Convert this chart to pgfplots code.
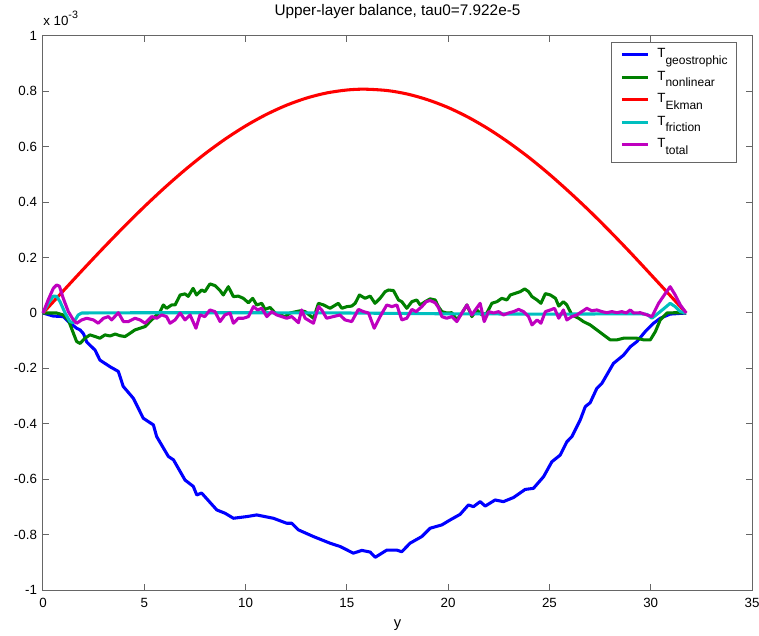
\documentclass[border=0pt]{standalone}
\usepackage{pgfplots}
\pgfplotsset{compat=1.18}
\usepackage{fontspec}
\setmainfont{Liberation Sans}
\definecolor{mblue}{rgb}{0,0,1}
\definecolor{mgreen}{rgb}{0,0.5,0}
\definecolor{mred}{rgb}{1,0,0}
\definecolor{mcyan}{rgb}{0,0.75,0.75}
\definecolor{mmag}{rgb}{0.75,0,0.75}
\newcommand{\sub}[1]{\raisebox{-5pt}{\fontsize{9}{9}\selectfont #1}}
\begin{document}
\begin{tikzpicture}
\begin{axis}[name=ax,
  width=531.75pt, height=415.5pt, scale only axis,
  xmin=0, xmax=35, ymin=-1, ymax=1,
  xtick={0,5,10,15,20,25,30,35},
  xticklabels={0,5,10,15,20,25,30,35},
  ytick={-1,-0.8,-0.6,-0.4,-0.2,0,0.2,0.4,0.6,0.8,1},
  yticklabels={-1,-0.8,-0.6,-0.4,-0.2,0,0.2,0.4,0.6,0.8,1},
  tick align=inside, tick pos=both, major tick length=4.5pt,
  axis line style={black!60, line width=0.75pt},
  every tick/.style={black!60, line width=0.75pt},
  tick label style={font=\fontsize{10}{12}\selectfont, black},
  xticklabel style={anchor=base, yshift=-12.75pt},
  yticklabel style={anchor=east, xshift=-1pt},
  title={Upper-layer balance, tau0=7.922e-5},
  title style={at={(0.5,1)}, anchor=base, yshift=9pt, font=\fontsize{11.5}{13}\selectfont},
  xlabel={y},
  xlabel style={at={(0.5,0)}, anchor=base, yshift=-27.75pt, font=\fontsize{11}{13}\selectfont},
  legend cell align=left,
  legend style={at={(1,1)}, anchor=north east, xshift=-11.25pt, yshift=-4.5pt,
    draw=black!60, line width=0.6pt, fill=white,
    inner xsep=6.75pt, inner ysep=3.5pt, row sep=1.4pt, column sep=6pt,
    nodes={inner sep=0pt, text height=8pt, text depth=7.5pt, font=\fontsize{10}{12}\selectfont}},
  legend image code/.code={\draw[#1, line width=2.3pt] (0pt,2pt) -- (19.5pt,2pt);},
  every axis plot/.append style={line width=2.3pt, line join=round},
  clip=false,
]
\addplot[mblue] coordinates {
(0,0) (0.5,-0.011) (1.0,-0.013) (1.25,-0.031) (1.66,-0.055) (1.83,-0.061) (2.0,-0.075) (2.16,-0.105) (2.57,-0.134) (2.81,-0.17) (3.31,-0.194) (3.72,-0.211) (3.96,-0.265) (4.46,-0.308) (4.95,-0.38) (5.45,-0.404) (5.61,-0.446) (6.19,-0.518) (6.44,-0.53) (7.01,-0.603) (7.42,-0.626) (7.59,-0.657) (7.83,-0.65) (8.58,-0.711) (8.99,-0.723) (9.4,-0.741) (10.06,-0.735) (10.55,-0.729) (11.37,-0.741) (12.03,-0.759) (12.28,-0.759) (12.61,-0.783) (13.35,-0.807) (14.17,-0.831) (14.67,-0.843) (15.32,-0.867) (15.74,-0.857) (16.15,-0.863) (16.4,-0.882) (16.97,-0.856) (17.47,-0.856) (17.71,-0.862) (18.12,-0.831) (18.7,-0.807) (19.11,-0.777) (19.69,-0.765) (20.1,-0.747) (20.59,-0.727) (21.0,-0.693) (21.25,-0.699) (21.58,-0.681) (21.83,-0.697) (22.32,-0.675) (22.73,-0.681) (23.23,-0.666) (23.8,-0.637) (24.21,-0.633) (24.71,-0.591) (25.12,-0.537) (25.53,-0.513) (25.86,-0.465) (26.11,-0.446) (26.52,-0.386) (26.77,-0.338) (27.01,-0.324) (27.34,-0.272) (27.59,-0.254) (28.16,-0.182) (28.66,-0.152) (28.99,-0.122) (29.32,-0.103) (29.73,-0.067) (30.14,-0.037) (30.47,-0.019) (30.96,-0.004) (31.75,0)
};
\addlegendentry{T\sub{geostrophic}}
\addplot[mgreen] coordinates {
(0,0) (0.67,0) (1.0,-0.007) (1.25,-0.025) (1.5,-0.073) (1.66,-0.103) (1.83,-0.11) (2.07,-0.091) (2.32,-0.079) (2.57,-0.085) (2.81,-0.091) (3.06,-0.079) (3.31,-0.083) (3.56,-0.076) (3.8,-0.082) (4.05,-0.085) (4.3,-0.073) (4.54,-0.061) (4.79,-0.055) (5.04,-0.049) (5.28,-0.031) (5.53,-0.013) (5.78,0.005) (5.94,0.029) (6.1,0.017) (6.35,0.029) (6.52,0.029) (6.77,0.065) (7.01,0.069) (7.17,0.06) (7.41,0.089) (7.58,0.065) (7.83,0.083) (7.99,0.077) (8.24,0.105) (8.49,0.099) (8.74,0.081) (8.9,0.065) (9.15,0.095) (9.4,0.059) (9.64,0.061) (9.89,0.053) (10.14,0.037) (10.35,0.053) (10.55,0.029) (10.8,0.035) (10.96,0.013) (11.21,0.02) (11.46,0) (11.7,-0.007) (11.95,-0.013) (12.2,0) (12.69,0.008) (12.94,0.005) (13.35,-0.019) (13.6,0.035) (13.85,0.029) (14.17,0.017) (14.58,0.035) (14.75,0.017) (15.0,0.023) (15.24,0.025) (15.41,0.035) (15.62,0.065) (15.9,0.053) (16.15,0.061) (16.39,0.035) (16.64,0.053) (16.89,0.077) (17.06,0.083) (17.3,0.081) (17.55,0.047) (17.71,0.041) (17.96,0.017) (18.21,0.041) (18.45,0.047) (18.62,0.029) (18.87,0.041) (19.11,0.051) (19.36,0.047) (19.52,0.023) (19.69,0.005) (19.93,0) (20.18,0.001) (20.43,-0.025) (20.68,0) (20.93,0.029) (21.17,-0.013) (21.42,0.011) (21.67,-0.007) (21.91,0) (22.16,0.035) (22.41,0.041) (22.65,0.053) (22.9,0.047) (23.07,0.065) (23.31,0.071) (23.56,0.077) (23.78,0.087) (23.97,0.077) (24.14,0.059) (24.39,0.047) (24.58,0.035) (24.8,0.07) (25.05,0.065) (25.3,0.053) (25.46,0.025) (25.69,0.041) (25.86,0.029) (26.11,-0.007) (26.44,-0.019) (26.68,-0.031) (27.01,-0.043) (27.34,-0.061) (27.67,-0.079) (28.0,-0.097) (28.33,-0.097) (28.66,-0.091) (28.99,-0.091) (29.32,-0.091) (29.65,-0.097) (29.98,-0.097) (30.23,-0.067) (30.47,-0.025) (30.8,0) (31.21,0.001) (31.75,0)
};
\addlegendentry{T\sub{nonlinear}}
\addplot[mred, smooth] coordinates {
(0,0) (1,0.0798) (2,0.1589) (3,0.2363) (4,0.3115) (5,0.3837) (6,0.4520) (7,0.5160) (8,0.5749) (9,0.6281) (10,0.6752) (11,0.7158) (12,0.7494) (13,0.7757) (14,0.7943) (15,0.8050) (15.875,0.808) (17,0.8030) (18,0.7902) (19,0.7695) (20,0.7417) (21,0.7063) (22,0.6640) (23,0.6151) (24,0.5608) (25,0.5006) (26,0.4355) (27,0.3668) (28,0.2938) (29,0.2178) (30,0.1392) (31,0.0599) (31.75,0)
};
\addlegendentry{T\sub{Ekman}}
\addplot[mcyan] coordinates {
(0,0) (0.26,0.035) (0.51,0.061) (0.67,0.06) (0.84,0.041) (1.09,0) (1.33,-0.031) (1.5,-0.035) (1.74,-0.007) (1.91,0) (5,0.001) (10,0.001) (15,0) (20,-0.003) (25,-0.004) (29.5,-0.003) (29.82,-0.005) (30.06,-0.019) (30.3,-0.005) (30.67,0.017) (30.96,0.035) (31.21,0.023) (31.46,0.005) (31.75,0)
};
\addlegendentry{T\sub{friction}}
\addplot[mmag] coordinates {
(0,0) (0.26,0.048) (0.51,0.089) (0.67,0.101) (0.81,0.097) (1.0,0.053) (1.25,0.005) (1.5,-0.025) (1.66,-0.037) (1.91,-0.025) (2.16,-0.019) (2.49,-0.025) (2.73,-0.037) (2.98,-0.019) (3.23,-0.013) (3.39,-0.025) (3.72,0.001) (3.97,-0.031) (4.21,-0.031) (4.54,-0.019) (4.79,-0.025) (5.04,-0.037) (5.37,-0.013) (5.61,-0.019) (5.86,-0.007) (6.1,-0.013) (6.27,-0.037) (6.52,-0.025) (6.77,0) (7.01,-0.025) (7.26,-0.007) (7.55,-0.055) (7.75,-0.007) (7.99,-0.013) (8.24,0.011) (8.49,0.005) (8.74,-0.031) (8.98,-0.007) (9.23,0) (9.4,-0.037) (9.64,-0.019) (9.89,-0.019) (10.14,-0.013) (10.39,0.023) (10.59,0.011) (10.8,0.017) (11.05,-0.013) (11.29,0.005) (11.54,-0.007) (11.79,-0.013) (12.03,-0.019) (12.28,-0.013) (12.61,-0.035) (12.77,0.011) (12.94,-0.019) (13.35,-0.037) (13.6,0.023) (13.76,0.011) (14.0,-0.019) (14.33,-0.013) (14.66,-0.007) (14.91,-0.025) (15.24,-0.031) (15.57,0.013) (15.82,0.005) (16.07,0) (16.35,-0.055) (16.64,-0.013) (16.97,0.029) (17.22,0.023) (17.47,0.029) (17.71,-0.025) (17.96,-0.019) (18.21,0.013) (18.42,0.005) (18.7,0.023) (18.92,0.041) (19.11,0.045) (19.36,0.037) (19.52,0.02) (19.69,-0.013) (19.93,-0.019) (20.18,-0.013) (20.43,-0.031) (20.68,0) (20.93,0.029) (21.17,-0.007) (21.34,0.011) (21.58,0.035) (21.78,-0.031) (22.0,0.005) (22.25,0) (22.49,0.005) (22.73,-0.007) (22.98,0) (23.23,0.005) (23.48,0.013) (23.72,0.005) (23.97,-0.013) (24.14,-0.043) (24.39,-0.025) (24.58,-0.037) (24.8,0.005) (25.05,0.011) (25.25,0.017) (25.46,-0.019) (25.69,0.011) (25.86,-0.025) (26.11,-0.013) (26.35,-0.007) (26.6,0.005) (26.85,0.017) (27.09,0.008) (27.34,0.011) (27.59,0.005) (27.83,0.001) (28.08,0.005) (28.33,0.001) (28.57,0.005) (28.79,0) (28.99,0.011) (29.16,0) (29.49,0.001) (29.82,-0.007) (30.06,-0.013) (30.39,0.035) (30.67,0.065) (30.96,0.095) (31.21,0.065) (31.46,0.029) (31.75,0)
};
\addlegendentry{T\sub{total}}
\node[anchor=base west, inner sep=0pt, font=\fontsize{10}{12}\selectfont] at (rel axis cs:0,1) [yshift=8pt] {x 10\raisebox{5pt}{\fontsize{8}{8}\selectfont -3}};
\end{axis}
\pgfresetboundingbox
\path (ax.north east) ++(5.25pt,27pt) coordinate (tr);
\path (ax.south west) ++(-32.25pt,-33.75pt) rectangle (tr);
\end{tikzpicture}
\end{document}
